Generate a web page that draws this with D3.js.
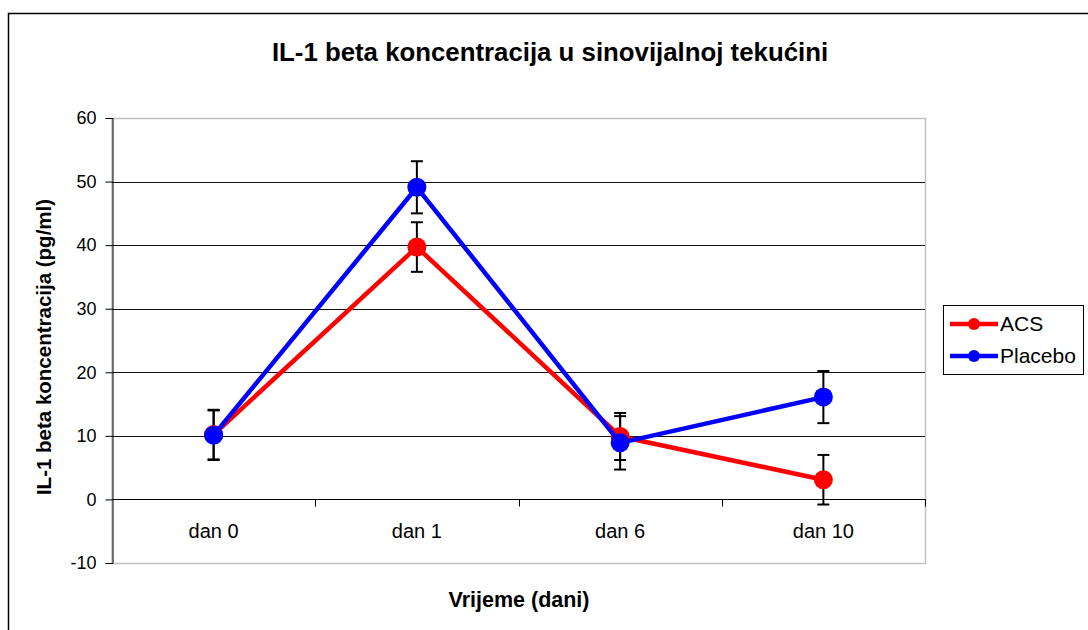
<!DOCTYPE html>
<html>
<head>
<meta charset="utf-8">
<script src="https://cdn.jsdelivr.net/npm/d3@7"></script>
<style>
  body{ margin:0; background:#fff; }
  svg{ display:block; font-family:"Liberation Sans", Arial, sans-serif; }
</style>
</head>
<body>
<svg id="chart" width="1088" height="630"></svg>
<script>
const categories = ['dan 0', 'dan 1', 'dan 6', 'dan 10']
const acsValues = [10.2, 39.7, 9.9, 3.1]
const acsErrors = [3.9, 3.9, 3.7, 3.9]
const placeboValues = [10.1, 49.1, 8.9, 16.1]
const placeboErrors = [3.9, 4.1, 4.2, 4.1]
const yTicks = [-10, 0, 10, 20, 30, 40, 50, 60]

const series = [
  { name:'ACS', color:'#ff0000', values:acsValues, errors:acsErrors },
  { name:'Placebo', color:'#0000ff', values:placeboValues, errors:placeboErrors }
]

const svg = d3.select('#chart')
const plot = { left:112, right:925, top:118, bottom:563 }

const x = d3.scaleBand().domain(categories).range([plot.left, plot.right])
const y = d3.scaleLinear().domain([-10, 60]).range([plot.bottom, plot.top])

// outer chart frame (runs off the right / bottom)
svg.append('rect')
  .attr('x', 8.5).attr('y', 13.5).attr('width', 1200).attr('height', 700)
  .attr('fill', 'none').attr('stroke', '#000').attr('stroke-width', 1.5)

// plot area border
svg.append('rect')
  .attr('x', plot.left).attr('y', plot.top + 0.5)
  .attr('width', plot.right - plot.left + 0.5).attr('height', plot.bottom - plot.top)
  .attr('fill', 'none').attr('stroke', '#c0c0c0').attr('stroke-width', 1.5)

// gridlines
svg.append('g').selectAll('line')
  .data(yTicks.filter(t => t > 0 && t < 60))
  .join('line')
  .attr('x1', plot.left).attr('x2', plot.right)
  .attr('y1', d => Math.round(y(d)) + 0.5).attr('y2', d => Math.round(y(d)) + 0.5)
  .attr('stroke', '#111')

// y axis
const yAxis = svg.append('g')
  .attr('transform', `translate(${plot.left + 0.5},0)`)
  .call(d3.axisLeft(y).tickValues(yTicks).tickSize(7).tickPadding(9).tickFormat(d => String(d)))
yAxis.select('.domain').attr('stroke', '#000')
yAxis.selectAll('.tick line').attr('stroke', '#000')
yAxis.selectAll('.tick text').attr('font-size', 18).attr('fill', '#000')
  .attr('font-family', '"Liberation Sans", Arial, sans-serif')

// x axis crossing at 0, ticks at category boundaries
const y0 = Math.round(y(0)) + 0.5
svg.append('line')
  .attr('x1', plot.left).attr('x2', plot.right + 1)
  .attr('y1', y0).attr('y2', y0).attr('stroke', '#000')
svg.append('g').selectAll('line')
  .data(categories)
  .join('line')
  .attr('x1', d => Math.round(x(d) + x.bandwidth()) + 0.5)
  .attr('x2', d => Math.round(x(d) + x.bandwidth()) + 0.5)
  .attr('y1', y0).attr('y2', y0 + 7).attr('stroke', '#000')
svg.append('g').selectAll('text')
  .data(categories)
  .join('text')
  .attr('x', d => x(d) + x.bandwidth() / 2)
  .attr('y', y0 + 38)
  .attr('text-anchor', 'middle')
  .attr('font-size', 20)
  .text(d => d)

// error bars
const cx = i => x(categories[i]) + x.bandwidth() / 2
series.forEach(s => {
  const g = svg.append('g').attr('stroke', '#000').attr('stroke-width', 2)
  s.values.forEach((v, i) => {
    const top = y(v + s.errors[i]), bot = y(v - s.errors[i])
    g.append('line').attr('x1', cx(i)).attr('x2', cx(i)).attr('y1', top).attr('y2', bot)
    g.append('line').attr('x1', cx(i) - 6).attr('x2', cx(i) + 6).attr('y1', top).attr('y2', top)
    g.append('line').attr('x1', cx(i) - 6).attr('x2', cx(i) + 6).attr('y1', bot).attr('y2', bot)
  })
})

// lines + markers
const line = d3.line().x((d, i) => cx(i)).y(d => y(d))
series.forEach(s => {
  svg.append('path')
    .attr('d', line(s.values))
    .attr('fill', 'none').attr('stroke', s.color).attr('stroke-width', 4.5)
    .attr('stroke-linejoin', 'round')
  svg.append('g').selectAll('circle')
    .data(s.values)
    .join('circle')
    .attr('cx', (d, i) => cx(i)).attr('cy', d => y(d)).attr('r', 9.5)
    .attr('fill', s.color)
})

// title and axis titles
svg.append('text')
  .attr('x', 550).attr('y', 61)
  .attr('text-anchor', 'middle').attr('font-size', 25.8).attr('font-weight', 'bold')
  .text('IL-1 beta koncentracija u sinovijalnoj tekućini')
svg.append('text')
  .attr('transform', `translate(51,347) rotate(-90)`)
  .attr('text-anchor', 'middle').attr('font-size', 20.5).attr('font-weight', 'bold')
  .text('IL-1 beta koncentracija (pg/ml)')
svg.append('text')
  .attr('x', 519).attr('y', 607)
  .attr('text-anchor', 'middle').attr('font-size', 21.5).attr('font-weight', 'bold')
  .text('Vrijeme (dani)')

// legend
const legend = svg.append('g').attr('transform', 'translate(943,305)')
legend.append('rect')
  .attr('x', 0.5).attr('y', 0.5).attr('width', 140).attr('height', 69)
  .attr('fill', '#fff').attr('stroke', '#000')
series.forEach((s, i) => {
  const ly = 19 + i * 32
  legend.append('line').attr('x1', 7).attr('x2', 55).attr('y1', ly).attr('y2', ly)
    .attr('stroke', s.color).attr('stroke-width', 4.5)
  legend.append('circle').attr('cx', 31).attr('cy', ly).attr('r', 6).attr('fill', s.color)
  legend.append('text').attr('x', 57).attr('y', ly + 7).attr('font-size', 21).text(s.name)
})
</script>
</body>
</html>
